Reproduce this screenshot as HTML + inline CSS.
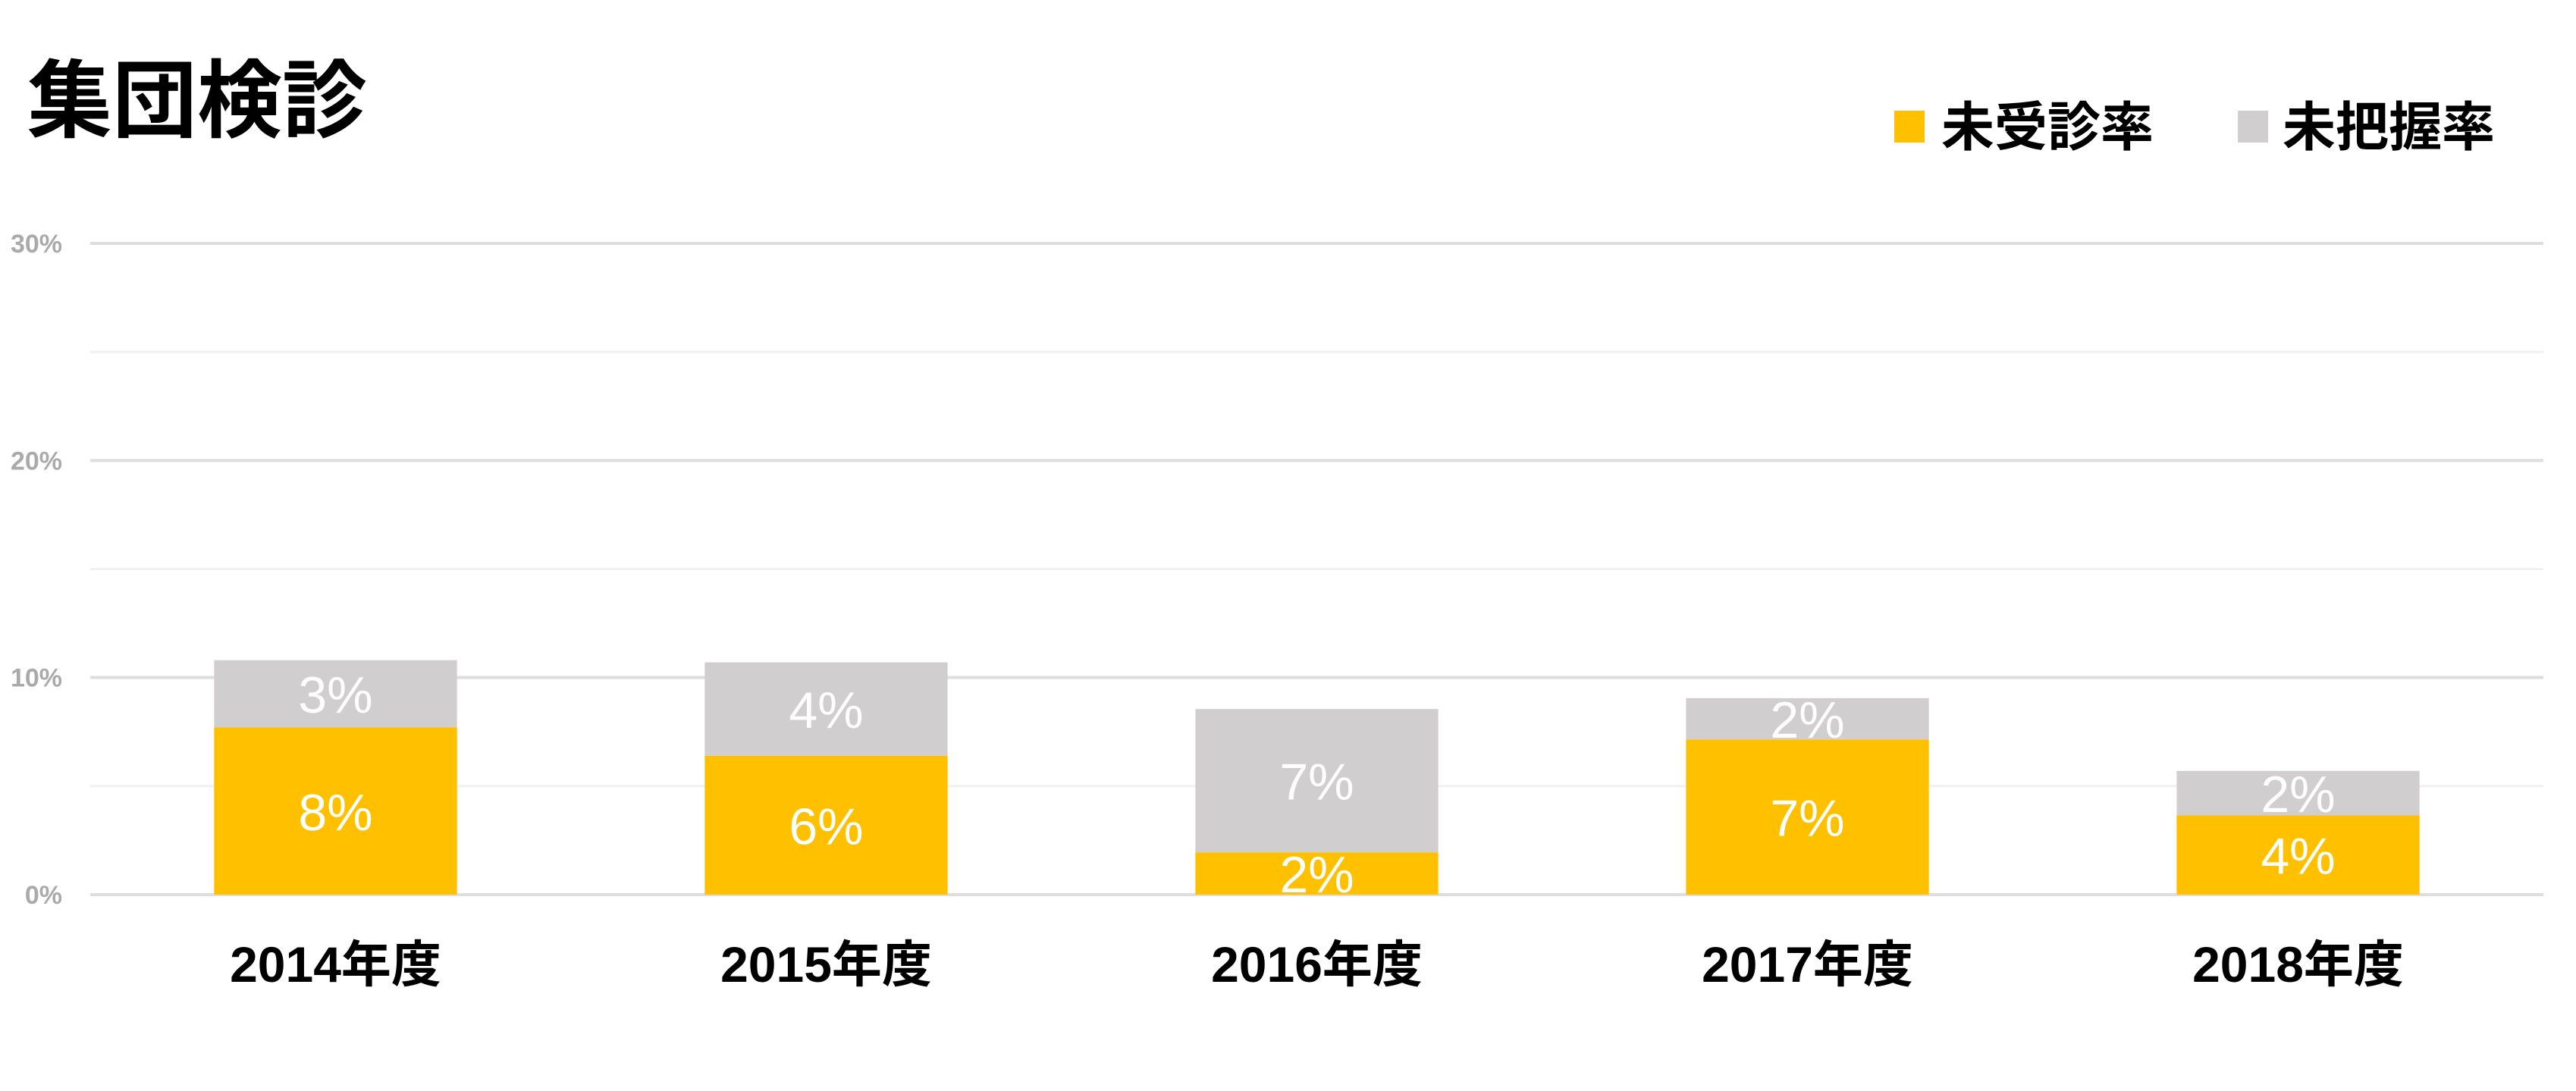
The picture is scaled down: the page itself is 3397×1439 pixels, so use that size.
<!DOCTYPE html>
<html><head><meta charset="utf-8"><style>
html,body{margin:0;padding:0;background:#fff;}
svg{display:block;font-family:"Liberation Sans","Noto Sans CJK JP",sans-serif;}
</style></head><body>
<svg id="chart" width="3397" height="1439" viewBox="0 0 3397 1439" xmlns="http://www.w3.org/2000/svg">
<text x="36" y="172" font-size="112" font-weight="bold" fill="#000" font-family="'Liberation Sans','Noto Sans CJK JP',sans-serif">集団検診</text>
<g>
<rect x="2498" y="146" width="40" height="42" fill="#FFC000"/>
<text x="2560" y="192" font-size="70" font-weight="bold" fill="#000">未受診率</text>
<rect x="2951" y="146" width="40" height="42" fill="#D0CECE"/>
<text x="3010" y="192" font-size="70" font-weight="bold" fill="#000">未把握率</text>
</g>
<g id="grid"></g>
<g id="bars"></g>
<g id="labels"></g>
</svg>
<script>
const categories = ["2014年度","2015年度","2016年度","2017年度","2018年度"];
const unexamined = [7.7, 6.4, 1.95, 7.15, 3.65];
const unknown = [3.1, 4.3, 6.6, 1.9, 2.05];
const yTicks = [0, 10, 20, 30];
const yMinorTicks = [5, 15, 25];
const yTickLabels = ["0%","10%","20%","30%"];

const NS = "http://www.w3.org/2000/svg";
const plotL = 119, plotR = 3354, y0 = 1180, y30 = 321;
const yScale = v => y0 - (v / 30) * (y0 - y30);
const band = (plotR - plotL) / categories.length;
const xCenter = i => plotL + band * (i + 0.5);
const barW = band * 0.495;

function mk(tag, attrs, parent) {
  const e = document.createElementNS(NS, tag);
  for (const k in attrs) e.setAttribute(k, attrs[k]);
  parent.appendChild(e);
  return e;
}
const grid = document.getElementById('grid');
const bars = document.getElementById('bars');
const labels = document.getElementById('labels');

yMinorTicks.forEach(t => {
  const l = mk('line', {x1: plotL, x2: plotR, y1: yScale(t), y2: yScale(t), stroke: '#f1f1f1', 'stroke-width': 3}, grid);
  
  
});
yTicks.forEach((t, i) => {
  const l = mk('line', {x1: plotL, x2: plotR, y1: yScale(t), y2: yScale(t), stroke: '#dedede', 'stroke-width': 4}, grid);
  
  
  const tx = mk('text', {x: 82, y: yScale(t) + 12, 'font-size': 34, fill: '#aaaaaa', 'text-anchor': 'end', 'font-weight': 'bold'}, grid);
  tx.textContent = yTickLabels[i];
  
  
});

categories.forEach((c, i) => {
  const x = xCenter(i) - barW / 2;
  const a = unexamined[i], b = unknown[i];
  const r1 = mk('rect', {x: x, y: yScale(a), width: barW, height: yScale(0) - yScale(a), fill: '#FFC000'}, bars);
  
  
  const r2 = mk('rect', {x: x, y: yScale(a + b), width: barW, height: yScale(a) - yScale(a + b), fill: '#D0CECE'}, bars);
  
  

  const t1 = mk('text', {x: xCenter(i), y: (yScale(0) + yScale(a)) / 2 + 25, 'font-size': 68, fill: '#fff', 'text-anchor': 'middle'}, labels);
  t1.textContent = Math.round(a) + '%';
  
  
  const t2 = mk('text', {x: xCenter(i), y: (yScale(a) + yScale(a + b)) / 2 + 25, 'font-size': 68, fill: '#fff', 'text-anchor': 'middle'}, labels);
  t2.textContent = Math.round(b) + '%';
  
  

  const cl = mk('text', {x: xCenter(i), y: 1295, 'font-size': 66, 'font-weight': 'bold', fill: '#000', 'text-anchor': 'middle'}, labels);
  cl.textContent = c;
  
  
});
</script>
</body></html>
